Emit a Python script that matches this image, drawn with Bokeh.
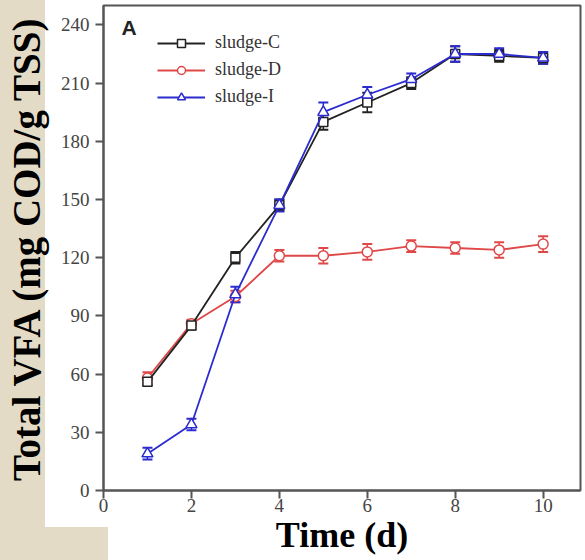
from bokeh.plotting import figure
from bokeh.models import (ColumnDataSource, Whisker, TeeHead, Legend, LegendItem,
                          FixedTicker, Range1d, Label)
from bokeh.embed import file_html
from bokeh.resources import INLINE

# ---- data ----
days = [1, 2, 3, 4, 5, 6, 7, 8, 9, 10]
sludge_c = [56, 85, 120, 147, 190, 200, 210, 225, 224, 223]
sludge_c_err = [2, 2, 3, 3, 4, 5, 3, 4, 3, 3]
sludge_d = [58, 86, 100, 121, 121, 123, 126, 125, 124, 127]
sludge_d_err = [3, 2, 3, 3, 4, 4, 3, 3, 4, 4]
sludge_i = [19, 34, 101, 147, 195, 204, 212, 225, 225, 223]
sludge_i_err = [3, 3, 4, 3, 5, 4, 3, 4, 3, 3]
x_ticks = [0, 2, 4, 6, 8, 10]
y_ticks = [0, 30, 60, 90, 120, 150, 180, 210, 240]

SERIF = "Liberation Serif"
BEIGE = "#e4dbc6"

p = figure(width=585, height=560, output_backend="svg", toolbar_location=None,
           x_range=Range1d(0, 10.85), y_range=Range1d(0, 250),
           min_border_left=103, min_border_right=5, min_border_top=5,
           min_border_bottom=70)
p.grid.visible = False
p.background_fill_color = "white"
p.border_fill_alpha = 0
p.styles = {
    "background-image": (f"linear-gradient(to right, {BEIGE} 108px, transparent 108px), "
                         f"linear-gradient(to right, {BEIGE} 45px, #ffffff 45px)"),
    "background-size": "100% 33px, 100% 100%",
    "background-position": "left bottom, left top",
    "background-repeat": "no-repeat",
}
p.outline_line_color = "#555555"
p.outline_line_width = 2

for ax in (p.xaxis[0], p.yaxis[0]):
    ax.axis_line_color = "#555555"
    ax.axis_line_width = 2
    ax.major_tick_line_color = "#555555"
    ax.major_tick_line_width = 2
    ax.major_tick_out = 8
    ax.major_tick_in = 0
    ax.minor_tick_out = 0
    ax.minor_tick_in = 0
    ax.major_label_text_font = SERIF
    ax.major_label_text_font_size = "19px"
    ax.major_label_text_color = "#444444"

p.xaxis.ticker = FixedTicker(ticks=x_ticks)
p.yaxis.ticker = FixedTicker(ticks=y_ticks)
p.xaxis.major_label_standoff = 0
p.yaxis.major_label_standoff = 6

p.xaxis.axis_label = "Time (d)"
p.xaxis.axis_label_text_font = SERIF
p.xaxis.axis_label_text_font_size = "36px"
p.xaxis.axis_label_text_font_style = "bold"
p.xaxis.axis_label_text_color = "black"
p.xaxis.axis_label_standoff = 0

p.yaxis.axis_label = "Total VFA (mg COD/g TSS)"
p.yaxis.axis_label_text_font = SERIF
p.yaxis.axis_label_text_font_size = "39px"
p.yaxis.axis_label_text_font_style = "bold"
p.yaxis.axis_label_text_color = "black"
p.yaxis.axis_label_standoff = 10

series = [
    ("sludge-D", sludge_d, sludge_d_err, "#e04848", "circle", 10),
    ("sludge-C", sludge_c, sludge_c_err, "#222222", "square", 9),
    ("sludge-I", sludge_i, sludge_i_err, "#2b2bd0", "triangle", 11),
]

items = {}
for name, vals, err, col, marker, size in series:
    src = ColumnDataSource(dict(
        x=days, y=vals,
        lo=[v - e for v, e in zip(vals, err)],
        hi=[v + e for v, e in zip(vals, err)]))
    w = Whisker(source=src, base="x", lower="lo", upper="hi",
                line_color=col, line_width=1.5,
                upper_head=TeeHead(size=10, line_color=col, line_width=2),
                lower_head=TeeHead(size=10, line_color=col, line_width=2))
    p.add_layout(w)
    ln = p.line("x", "y", source=src, line_color=col, line_width=1.8)
    sc = p.scatter("x", "y", source=src, marker=marker, size=size,
                   line_color=col, line_width=1.5, fill_color="white")
    items[name] = [ln, sc]

legend = Legend(items=[LegendItem(label=n, renderers=items[n])
                       for n in ("sludge-C", "sludge-D", "sludge-I")],
                location=(54, 383), padding=0, margin=0, spacing=6,
                glyph_width=48, glyph_height=20, label_height=20,
                label_standoff=10,
                label_text_font=SERIF, label_text_font_size="18px",
                label_text_color="#333333",
                border_line_alpha=0, background_fill_alpha=0)
p.add_layout(legend)

p.add_layout(Label(x=18, y=475, x_units="screen", y_units="screen", text="A",
                   text_font="Liberation Sans", text_font_size="21px",
                   text_font_style="bold", text_color="#222222",
                   text_baseline="top"))

open("out.html", "w").write(file_html(p, INLINE))
